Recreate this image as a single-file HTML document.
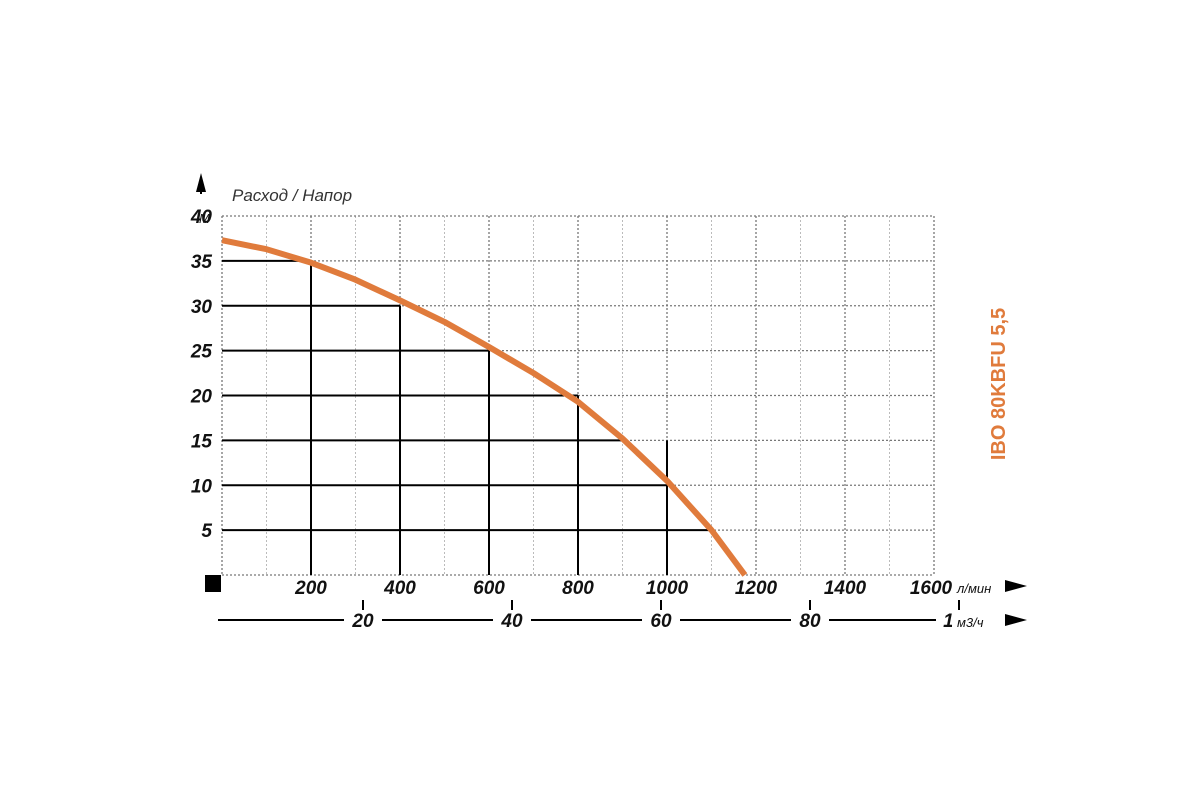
<!DOCTYPE html>
<html><head><meta charset="utf-8"><style>
body{margin:0;background:#fff;width:1200px;height:800px;overflow:hidden}
svg{display:block}
text{font-family:"Liberation Sans",sans-serif}
.t{font-weight:bold;font-style:italic;font-size:19px;fill:#111}
</style></head><body>
<svg id="c" width="1200" height="800"></svg>
<script>
const flowTicks=[200,400,600,800,1000,1200,1400,1600];
const headTicks=[5,10,15,20,25,30,35,40];
const m3Ticks=[20,40,60,80,100];
const curveFlow=[0,100,200,300,400,500,600,700,800,900,1000,1100,1175];
const curveHead=[37.3,36.3,34.8,32.9,30.6,28.2,25.4,22.5,19.3,15.2,10.5,5,0];
const refFlow=[200,400,600,800,900,1000,1100];
const refHead=[35,30,25,20,15,10,5];
const refVert=[200,400,600,800,1000];

const NS="http://www.w3.org/2000/svg";
const svg=document.getElementById('c');
const X=f=>222+f*0.445;
const Y=h=>575-h*8.975;
const M=v=>363+(v-20)*7.45;
function mk(tag,at,parent){const e=document.createElementNS(NS,tag);for(const k in at)e.setAttribute(k,at[k]);(parent||svg).appendChild(e);return e;}

// grid
for(let f=0;f<=1600;f+=100){
  const major=f%200===0;
  const l=mk('line',{x1:X(f),x2:X(f),y1:Y(40),y2:Y(0),stroke:major?'#777':'#bbb','stroke-width':major?1.3:1,'stroke-dasharray':'2,2'});
  
  
}
for(let h=0;h<=40;h+=5){
  const l=mk('line',{x1:X(0),x2:X(1600),y1:Y(h),y2:Y(h),stroke:'#777','stroke-width':1.2,'stroke-dasharray':'2,2'});
  
  
}
// reference lines
refHead.forEach((h,i)=>{
  const l=mk('line',{x1:X(0),x2:X(refFlow[i]),y1:Y(h),y2:Y(h),stroke:'#000','stroke-width':2});
  
  
});
refVert.forEach((f,i)=>{
  const l=mk('line',{x1:X(f),x2:X(f),y1:Y(refHead[i]),y2:Y(0),stroke:'#000','stroke-width':2});
  
  
});
// curve
let d='';
curveFlow.forEach((f,i)=>{d+=(i?'L':'M')+X(f)+','+Y(curveHead[i]);});
const cv=mk('path',{d:d,fill:'none',stroke:'#e07b3c','stroke-width':6,'stroke-linejoin':'round'});



// y labels
headTicks.forEach(h=>{
  const t=mk('text',{x:212,y:Y(h)+7,'text-anchor':'end',class:'t'});
  t.textContent=h;
  
  
});
const ym=mk('text',{x:199,y:223,'font-size':13,'font-style':'italic',fill:'#111'});ym.textContent='М';


// shift 40 label left a bit
// x labels
flowTicks.forEach(f=>{
  const t=mk('text',{x:X(f)+(f===1600?-3:0),y:594,'text-anchor':'middle',class:'t'});
  t.textContent=f;
  
  
});
const xu=mk('text',{x:957,y:593,'font-size':13,'font-style':'italic',fill:'#111'});xu.textContent='л/мин';


mk('polygon',{points:'1005,580 1027,586 1005,592',fill:'#000'});
mk('rect',{x:205,y:575,width:16,height:17,fill:'#000'});
// m3 axis
mk('line',{x1:218,x2:1000,y1:620,y2:620,stroke:'#000','stroke-width':2});
mk('polygon',{points:'1005,614 1027,620 1005,626',fill:'#000'});
m3Ticks.forEach(v=>{
  mk('line',{x1:M(v),x2:M(v),y1:600,y2:610,stroke:'#000','stroke-width':2});
  const w=v===100?40:32;
  mk('rect',{x:M(v)-w/2-3,y:610,width:w+6,height:20,fill:'#fff'});
  const t=mk('text',{x:M(v),y:627,'text-anchor':'middle',class:'t'});
  t.textContent=v;
  
  
});
mk('rect',{x:952,y:610,width:50,height:20,fill:'#fff'});
const mu=mk('text',{x:957,y:627,'font-size':13,'font-style':'italic',fill:'#111'});mu.textContent='м3/ч';


// y arrow and title
mk('polygon',{points:'201,173 196,192 206,192',fill:'#000'});
mk('line',{x1:201,x2:201,y1:185,y2:194,stroke:'#000','stroke-width':2});
const tt=mk('text',{x:232,y:201,'font-size':17,'font-style':'italic',fill:'#333'});tt.textContent='Расход / Напор';


// model label
const ml=mk('text',{x:1005,y:384,'text-anchor':'middle','font-size':20,'font-weight':'bold',fill:'#e07b3c',transform:'rotate(-90 1005 384)'});
ml.textContent='IBO 80KBFU 5,5';


</script>
</body></html>
